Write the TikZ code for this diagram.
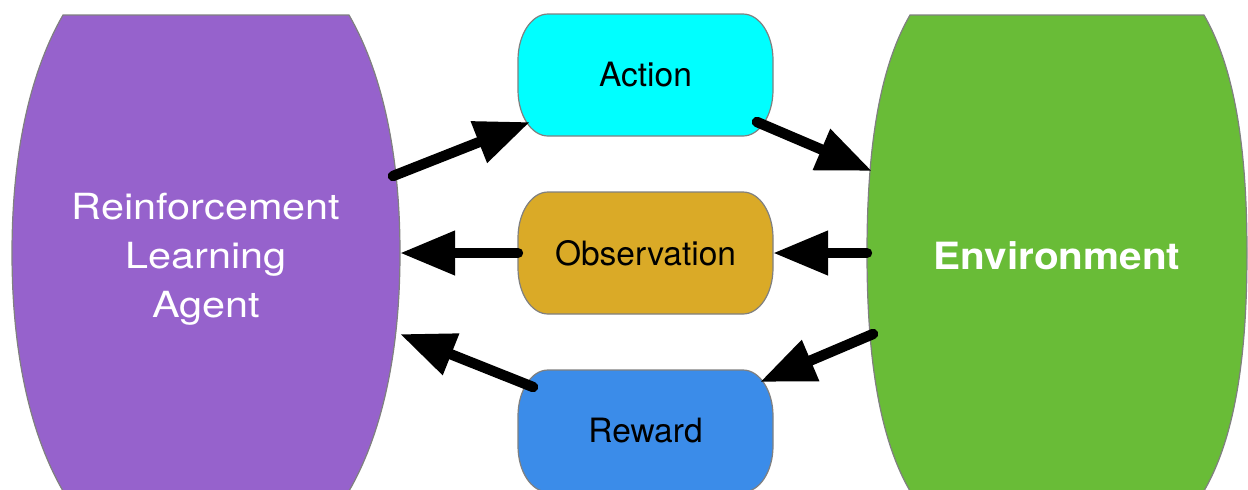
\documentclass[tikz,border=0pt]{standalone}
\usepackage{fontspec}
\setmainfont{TeX Gyre Heros}
\newfontfamily\widesans[FakeStretch=1.15]{TeX Gyre Heros}
\newfontfamily\widebold[FakeStretch=1.08]{TeX Gyre Heros}
\usetikzlibrary{arrows.meta,backgrounds}

\definecolor{agentpurple}{HTML}{9662CC}
\definecolor{envgreen}{HTML}{69BC37}
\definecolor{actioncyan}{HTML}{00FFFF}
\definecolor{obsgold}{HTML}{DAAA27}
\definecolor{rewardblue}{HTML}{3B8CE9}
\definecolor{edgegray}{HTML}{808080}

\tikzset{
  pillbox/.style={rectangle, minimum width=127.5pt, minimum height=61pt,
    inner sep=0pt, outer sep=0pt, text=black,
    font=\fontsize{16.75}{20}\selectfont},
  barrel/.style={rectangle, minimum height=238pt, inner sep=0pt, outer sep=0pt,
    text=white},
  outline/.style={draw=edgegray, line width=0.6pt},
  flow/.style={line width=5.2pt, line cap=round,
    -{Triangle[length=27.5pt,width=21pt]}}
}

% text set a little below its nominal centre
\newcommand\lowered[2]{\raisebox{-#1}[\height][\depth]{#2}}

% barrel-shaped body: flat top and bottom, bulging sides
% #1 node, #2 inset of the flat edges, #3 fill colour
\newcommand\barrelshape[3]{%
  \path[outline, fill=#3]
    ([xshift=#2]#1.north west) -- ([xshift=-#2]#1.north east)
    .. controls ([xshift=-#2+15pt,yshift=-26pt]#1.north east)
       and ([yshift=54pt]#1.east) .. (#1.east)
    .. controls ([yshift=-54pt]#1.east)
       and ([xshift=-#2+15pt,yshift=26pt]#1.south east) .. ([xshift=-#2]#1.south east)
    -- ([xshift=#2]#1.south west)
    .. controls ([xshift=#2-15pt,yshift=26pt]#1.south west)
       and ([yshift=-54pt]#1.west) .. (#1.west)
    .. controls ([yshift=54pt]#1.west)
       and ([xshift=#2-15pt,yshift=-26pt]#1.north west) .. ([xshift=#2]#1.north west)
    -- cycle;
}

% box with elliptical corners; #1 node, #2 fill colour
\newcommand\pillshape[2]{%
  \path[outline, fill=#2]
    ([xshift=15pt]#1.north west) -- ([xshift=-15pt]#1.north east)
    arc[start angle=90, end angle=0, x radius=15pt, y radius=23pt]
    -- ([yshift=23pt]#1.south east)
    arc[start angle=0, end angle=-90, x radius=15pt, y radius=23pt]
    -- ([xshift=15pt]#1.south west)
    arc[start angle=270, end angle=180, x radius=15pt, y radius=23pt]
    -- ([yshift=-23pt]#1.north west)
    arc[start angle=180, end angle=90, x radius=15pt, y radius=23pt]
    -- cycle;
}

\begin{document}
\begin{tikzpicture}[x=0.5pt, y=-0.5pt]
  \useasboundingbox (0,0) rectangle (1248,489);

  % agent and environment
  \node[barrel, minimum width=194pt,
        font=\widesans\fontsize{18}{24.5}\selectfont] (agent) at (206,253)
        {\lowered{2.75pt}{\begin{tabular}{@{}c@{}}Reinforcement\\Learning\\Agent\end{tabular}}};
  \node[barrel, minimum width=190pt,
        font=\widebold\bfseries\fontsize{18.75}{22}\selectfont] (env) at (1057,253)
        {\lowered{1.5pt}{Environment}};

  % signals exchanged between them
  \node[pillbox] (act) at (645.5,75)    {Action};
  \node[pillbox] (obs) at (645.5,253)   {Observation};
  \node[pillbox] (rew) at (645.5,431)   {Reward};

  \begin{scope}[on background layer]
    \barrelshape{agent}{25.5pt}{agentpurple}
    \barrelshape{env}{21.5pt}{envgreen}
    \pillshape{act}{actioncyan}
    \pillshape{obs}{obsgold}
    \pillshape{rew}{rewardblue}
  \end{scope}

  % interaction loop
  \draw[flow] ([xshift=-3.5pt,yshift=38.5pt]agent.east) -- ([xshift=6pt,yshift=7pt]act.south west);
  \draw[flow] ([xshift=-8pt,yshift=7pt]act.south east) -- ([xshift=2.5pt,yshift=41pt]env.west);
  \draw[flow] (env.west) -- (obs.east);
  \draw[flow] (obs.west) -- (agent.east);
  \draw[flow] ([xshift=3pt,yshift=-40.5pt]env.west) -- ([xshift=-6.5pt,yshift=-6pt]rew.north east);
  \draw[flow] ([xshift=7.5pt,yshift=-8.5pt]rew.north west) -- ([yshift=-40.5pt]agent.east);
\end{tikzpicture}
\end{document}
